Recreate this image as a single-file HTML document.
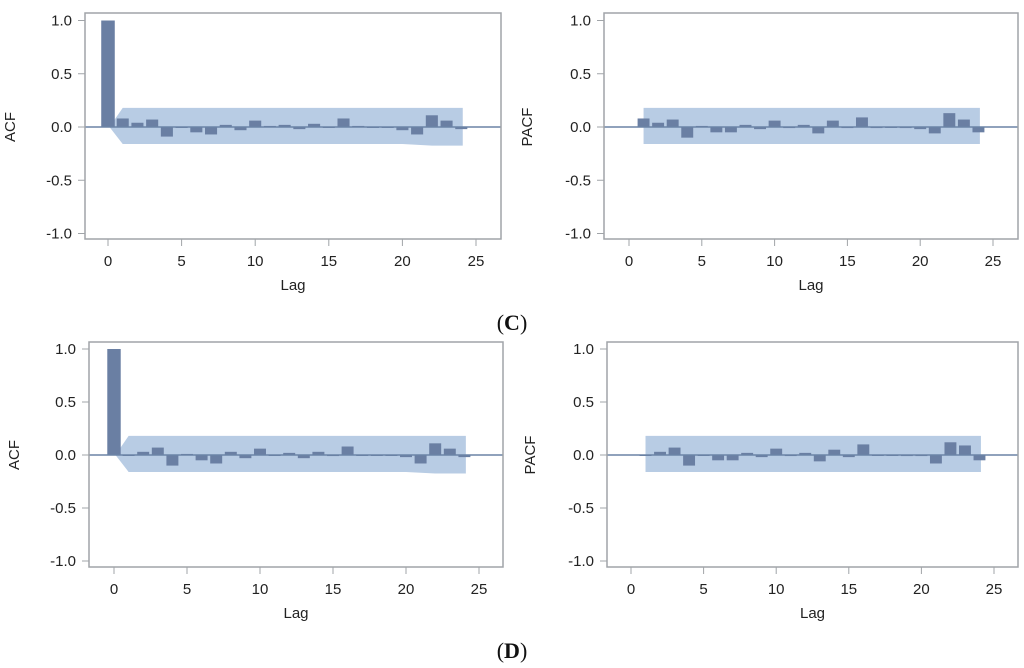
<!DOCTYPE html>
<html><head><meta charset="utf-8"><style>
html,body{margin:0;padding:0;background:#fff;width:1024px;height:668px;overflow:hidden}
svg{display:block}
.t{font-family:"Liberation Sans",sans-serif;font-size:15px;fill:#222}
.cap{font-family:"Liberation Serif",serif;font-size:22px;fill:#111}
</style></head><body>
<svg id="s" width="1024" height="668" xmlns="http://www.w3.org/2000/svg">
<text class="cap" x="512" y="330" text-anchor="middle">(<tspan font-weight="bold">C</tspan>)</text>
<text class="cap" x="512" y="658" text-anchor="middle">(<tspan font-weight="bold">D</tspan>)</text>
</svg>
<script>
const acfC = [1,0.08,0.04,0.07,-0.09,0,-0.05,-0.07,0.02,-0.03,0.06,0.01,0.02,-0.02,0.03,0,0.08,0.01,0,0,-0.03,-0.07,0.11,0.06,-0.02];
const pacfC = [0.08,0.04,0.07,-0.1,0.01,-0.05,-0.05,0.02,-0.02,0.06,-0.01,0.02,-0.06,0.06,-0.01,0.09,-0.01,0,-0.01,-0.02,-0.06,0.13,0.07,-0.05];
const acfD = [1,0,0.03,0.07,-0.1,0.01,-0.05,-0.08,0.03,-0.03,0.06,0,0.02,-0.03,0.03,-0.01,0.08,0,0,0,-0.02,-0.08,0.11,0.06,-0.02];
const pacfD = [0,0.03,0.07,-0.1,0,-0.05,-0.05,0.02,-0.02,0.06,-0.01,0.02,-0.06,0.05,-0.02,0.1,0,0,-0.01,-0.01,-0.08,0.12,0.09,-0.05];
const yTicks = [1.0,0.5,0.0,-0.5,-1.0];
const yTickLabels = ["1.0","0.5","0.0","-0.5","-1.0"];
const xTicks = [0,5,10,15,20,25];
const bandUpper = 0.18, bandLower = -0.16, bandLowerEnd = -0.175;

const NS="http://www.w3.org/2000/svg", svg=document.getElementById('s');
function mk(tag,attrs,parent){const e=document.createElementNS(NS,tag);for(const k in attrs)e.setAttribute(k,attrs[k]);(parent||svg).appendChild(e);return e;}

function panel(p){
  const g=mk('g',{});
  
  
  const X=l=>p.x0+(p.x25-p.x0)*l/25;
  const Y=v=>p.y0-(p.y0-p.y1)*v;
  let pts;
  if(p.acf){
    pts=[[0.6,0.1],[1,bandUpper],[24.1,bandUpper],[24.1,bandLowerEnd],[22,bandLowerEnd],[20,bandLower],[1,bandLower],[0.1,0]];
  } else {
    pts=[[1,bandUpper],[24.1,bandUpper],[24.1,bandLower],[1,bandLower]];
  }
  const band=mk('polygon',{points:pts.map(q=>X(q[0])+','+Y(q[1])).join(' '),fill:'#b8cce4'},g);
  
  
  const start=p.acf?0:1;
  p.data.forEach((v,i)=>{
    const lag=i+start, w=(i===0&&p.acf)?0.92:0.82;
    const r=mk('rect',{x:X(lag-w/2),y:Math.min(Y(v),Y(0)),width:(p.x25-p.x0)/25*w,height:Math.max(Math.abs(Y(v)-Y(0)),1),fill:'#6a7fa3'},g);
    
    
  });
  const z=mk('line',{x1:p.fx0,x2:p.fx1,y1:Y(0),y2:Y(0),stroke:'#6b83a6','stroke-width':1.5},g);
  
  
  const f=mk('rect',{x:p.fx0,y:p.fy0,width:p.fx1-p.fx0,height:p.fy1-p.fy0,fill:'none',stroke:'#a0a4a8','stroke-width':1.5},g);
  
  
  yTicks.forEach((v,i)=>{
    mk('line',{x1:p.fx0-7,x2:p.fx0,y1:Y(v),y2:Y(v),stroke:'#a0a4a8'},g);
    const t=mk('text',{class:'t',x:p.fx0-13,y:Y(v)+5,'text-anchor':'end'},g);
    t.textContent=yTickLabels[i];
    
    
  });
  xTicks.forEach(l=>{
    mk('line',{x1:X(l),x2:X(l),y1:p.fy1,y2:p.fy1+7,stroke:'#a0a4a8'},g);
    const t=mk('text',{class:'t',x:X(l),y:p.fy1+27,'text-anchor':'middle'},g);
    t.textContent=l;
    
    
  });
  const xt=mk('text',{class:'t',x:(p.fx0+p.fx1)/2,y:p.fy1+51,'text-anchor':'middle','font-size':'17'},g);
  xt.textContent='Lag';
  
  
  const yx=p.fx0-(p.acf?70:72), yy=Y(0);
  const yt=mk('text',{class:'t',x:yx,y:yy,'text-anchor':'middle',transform:'rotate(-90 '+yx+' '+yy+')','font-size':'16'},g);
  yt.textContent=p.acf?'ACF':'PACF';
  
  
}
panel({name:'acf-panel-c',acf:true,data:acfC,fx0:85,fx1:501,fy0:13,fy1:239,x0:108,x25:476,y0:127,y1:20.5});
panel({name:'pacf-panel-c',acf:false,data:pacfC,fx0:604,fx1:1018,fy0:13,fy1:239,x0:629,x25:993,y0:127,y1:20.5});
panel({name:'acf-panel-d',acf:true,data:acfD,fx0:89,fx1:503,fy0:342,fy1:567,x0:114,x25:479,y0:455,y1:349});
panel({name:'pacf-panel-d',acf:false,data:pacfD,fx0:607,fx1:1018,fy0:342,fy1:567,x0:631,x25:994,y0:455,y1:349});
</script>
</body></html>
